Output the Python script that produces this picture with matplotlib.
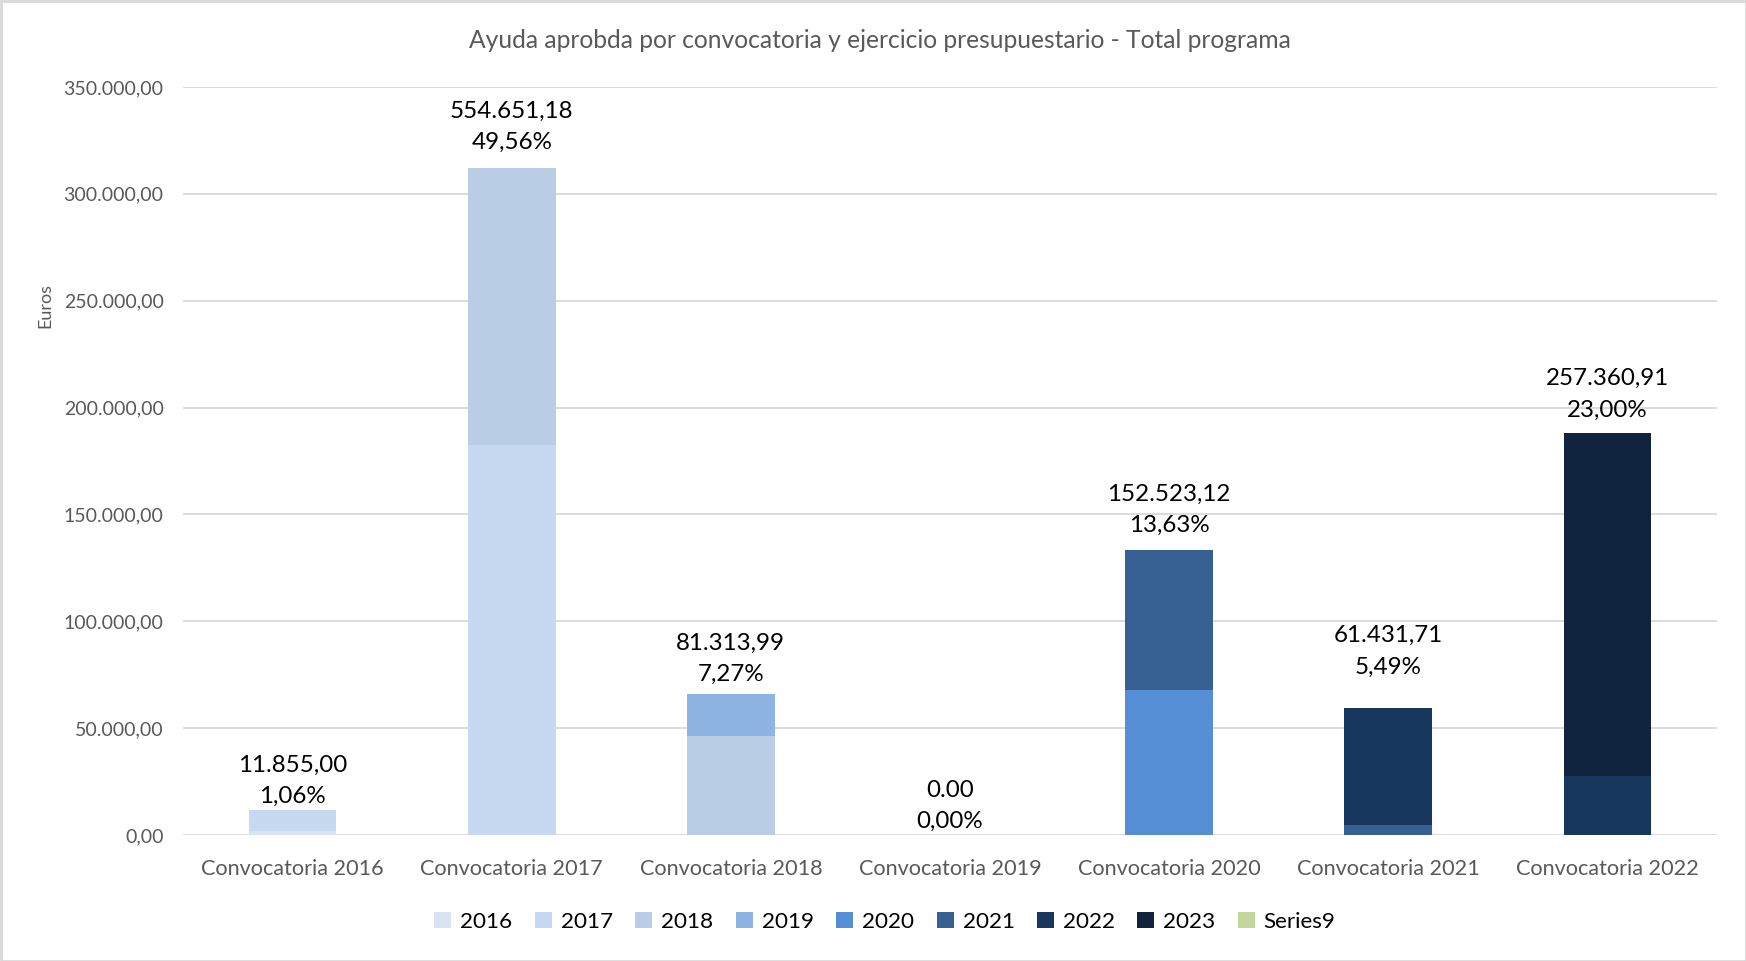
import numpy as np
import matplotlib.pyplot as plt
from matplotlib.patches import Rectangle

plt.rcParams['font.family'] = ['Lato', 'DejaVu Sans']

categories = ['Convocatoria 2016', 'Convocatoria 2017', 'Convocatoria 2018',
              'Convocatoria 2019', 'Convocatoria 2020', 'Convocatoria 2021',
              'Convocatoria 2022']
series_names = ['2016', '2017', '2018', '2019', '2020', '2021', '2022', '2023', 'Series9']

# importes por ejercicio presupuestario
y2016 = [2000, 0, 0, 0, 0, 0, 0]
y2017 = [9855, 182300, 0, 0, 0, 0, 0]
y2018 = [0, 129900, 46350, 0, 0, 0, 0]
y2019 = [0, 0, 19800, 0, 0, 0, 0]
y2020 = [0, 0, 0, 0, 67700, 0, 0]
y2021 = [0, 0, 0, 0, 65600, 4700, 0]
y2022 = [0, 0, 0, 0, 0, 54700, 27600]
y2023 = [0, 0, 0, 0, 0, 0, 160400]
series9 = [0, 0, 0, 0, 0, 0, 0]

total_labels = ['11.855,00', '554.651,18', '81.313,99', '0.00',
                '152.523,12', '61.431,71', '257.360,91']
pct_labels = ['1,06%', '49,56%', '7,27%', '0,00%', '13,63%', '5,49%', '23,00%']

colors = ['#DAE3F3', '#C6D9F1', '#B9CDE5', '#8EB4E3', '#558ED5',
          '#376092', '#17375E', '#10243F', '#C3D69B']

yticks = [0, 50000, 100000, 150000, 200000, 250000, 300000, 350000]
ytick_labels = ['0,00', '50.000,00', '100.000,00', '150.000,00', '200.000,00',
                '250.000,00', '300.000,00', '350.000,00']

# desplazamiento vertical de cada etiqueta (puntos), como en el original
label_dy = [2, 10.8, 6, 2, 10, 22, 9.2]

W, H = 1746, 961
fig = plt.figure(figsize=(W / 100, H / 100), dpi=100)
ax = fig.add_axes([183 / W, 1 - 835 / H, (1717 - 183) / W, (835 - 87) / H])

data = [y2016, y2017, y2018, y2019, y2020, y2021, y2022, y2023, series9]
x = np.arange(len(categories))
bottom = np.zeros(len(categories))
handles = []
for name, vals, c in zip(series_names, data, colors):
    vals = np.array(vals, dtype=float)
    b = ax.bar(x, vals, 0.4, bottom=bottom, color=c, label=name, zorder=3)
    handles.append(b)
    bottom += vals

for i in range(len(categories)):
    ax.annotate(total_labels[i] + '\n' + pct_labels[i], (x[i], bottom[i]),
                xytext=(0, label_dy[i]), textcoords='offset points', ha='center',
                va='bottom', fontsize=17.4, color='black', linespacing=1.6, zorder=4)

ax.set_xlim(-0.5, len(categories) - 0.5)
ax.set_ylim(0, 350000)
ax.set_yticks(yticks)
ax.set_yticklabels(ytick_labels)
ax.set_xticks(x)
ax.set_xticklabels(categories, fontsize=15.6)
ax.tick_params(axis='both', length=0, colors='#595959')
ax.tick_params(axis='y', labelsize=14, pad=14)
ax.tick_params(axis='x', pad=17)
ax.grid(axis='y', color='#D9D9D9', linewidth=1.3, zorder=0)
for s in ax.spines.values():
    s.set_visible(False)

fig.text(45 / W, 1 - 305 / H, 'Euros', rotation=90, ha='center', va='center',
         fontsize=13, color='#595959')
fig.text(880 / W, 1 - 41 / H,
         'Ayuda aprobda por convocatoria y ejercicio presupuestario - Total programa',
         ha='center', va='center', fontsize=17.7, color='#595959')

fig.legend(handles=handles, labels=series_names, loc='center',
           bbox_to_anchor=(885 / W, 1 - 922 / H), ncol=9, frameon=False,
           fontsize=16.2, handlelength=0.75, handleheight=0.75,
           handletextpad=0.4, columnspacing=1.0)

fig.patches.append(Rectangle((0.5 / W, 0.5 / H), 1 - 1 / W, 1 - 1 / H,
                             transform=fig.transFigure, fill=False,
                             edgecolor='#D9D9D9', linewidth=2))

fig.savefig('out.png', dpi=100, facecolor='white')
